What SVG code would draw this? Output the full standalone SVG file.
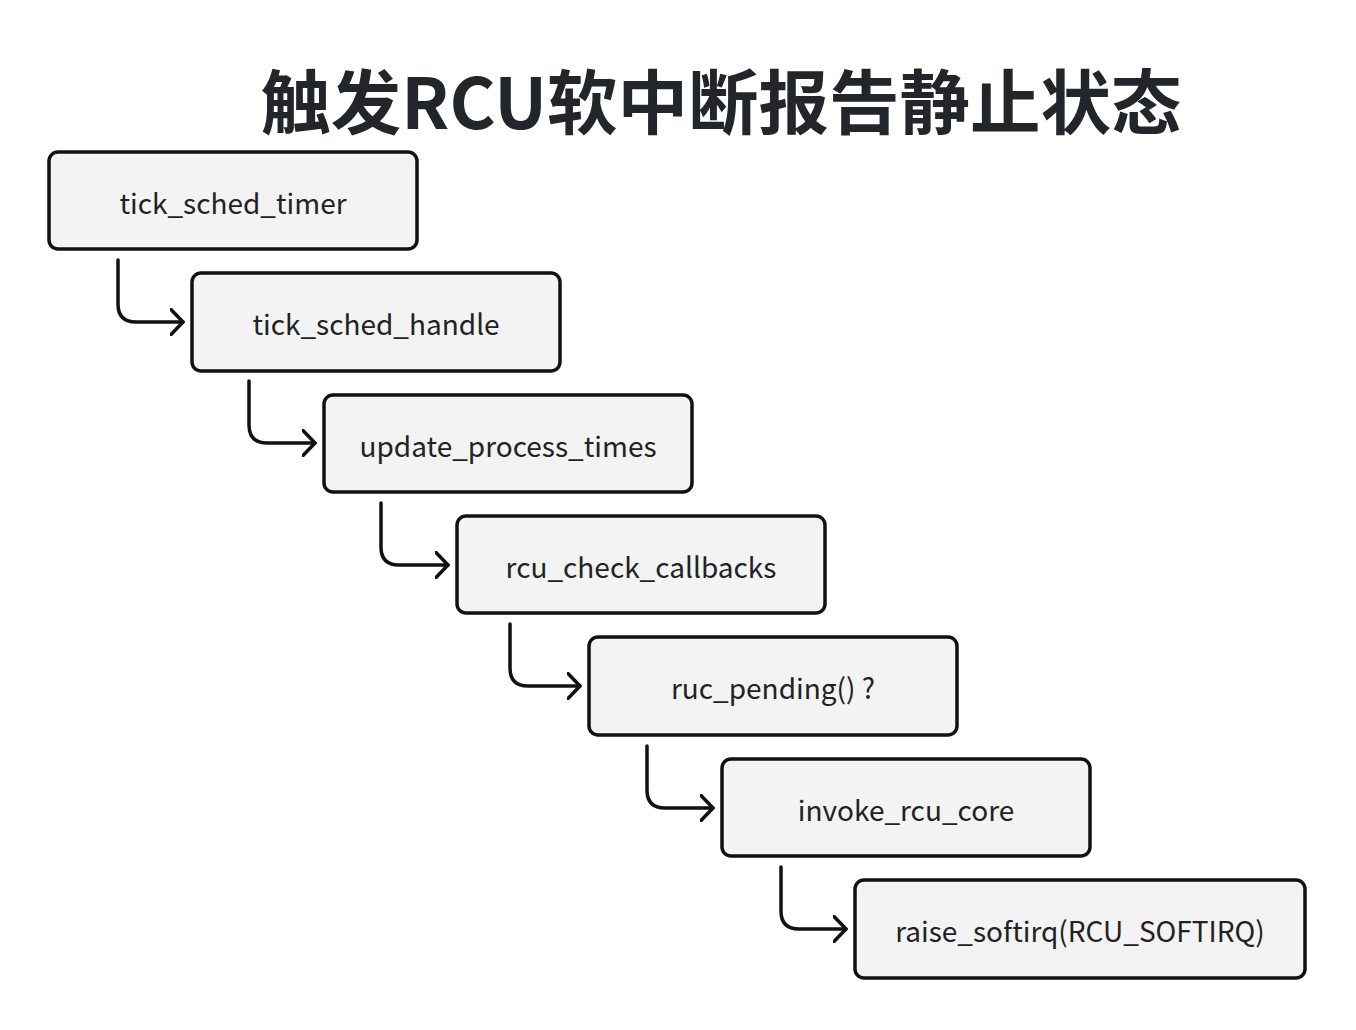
<svg xmlns="http://www.w3.org/2000/svg" width="1356" height="1030" viewBox="0 0 1356 1030">
<defs>
<style>
.box{fill:#f3f3f3;stroke:#111;stroke-width:3.5}
.lbl{font-family:"Noto Sans CJK SC","Noto Sans",sans-serif;font-size:28px;fill:#222;text-anchor:middle;dominant-baseline:central}
.title{font-family:"Noto Sans CJK SC","Noto Sans",sans-serif;font-size:70.5px;font-weight:700;fill:#22252a;text-anchor:middle}
.conn{fill:none;stroke:#111;stroke-width:3.5;stroke-linecap:round;stroke-linejoin:round}
</style>
<marker id="arr" viewBox="0 0 15 28" refX="13.5" refY="14" markerWidth="15" markerHeight="28" markerUnits="userSpaceOnUse" orient="auto">
<path d="M1.5,1.5 L13.5,14 L1.5,26.5" fill="none" stroke="#111" stroke-width="3.5" stroke-linecap="round" stroke-linejoin="round"/>
</marker>
</defs>
<rect width="1356" height="1030" fill="#ffffff"/>
<text class="title" x="721" y="129">触发RCU软中断报告静止状态</text>
<g id="connectors">
<path class="conn" marker-end="url(#arr)" d="M118,260 V304 Q118,322 136,322 H183"/>
<path class="conn" marker-end="url(#arr)" d="M249,381 V425 Q249,443 267,443 H315"/>
<path class="conn" marker-end="url(#arr)" d="M381,503 V547 Q381,565 399,565 H448"/>
<path class="conn" marker-end="url(#arr)" d="M510,624 V668 Q510,686 528,686 H580"/>
<path class="conn" marker-end="url(#arr)" d="M647,746 V790 Q647,808 665,808 H713"/>
<path class="conn" marker-end="url(#arr)" d="M781,867 V911 Q781,929 799,929 H846"/>
</g>
<g id="n1"><rect class="box" x="49" y="152" width="368" height="97" rx="9"/><text class="lbl" x="233" y="202">tick_sched_timer</text></g>
<g id="n2"><rect class="box" x="192" y="273" width="368" height="98" rx="9"/><text class="lbl" x="376" y="323">tick_sched_handle</text></g>
<g id="n3"><rect class="box" x="324" y="395" width="368" height="97" rx="9"/><text class="lbl" x="508" y="445">update_process_times</text></g>
<g id="n4"><rect class="box" x="457" y="516" width="368" height="97" rx="9"/><text class="lbl" x="641" y="566">rcu_check_callbacks</text></g>
<g id="n5"><rect class="box" x="589" y="637" width="368" height="98" rx="9"/><text class="lbl" x="773" y="687">ruc_pending() ?</text></g>
<g id="n6"><rect class="box" x="722" y="759" width="368" height="97" rx="9"/><text class="lbl" x="906" y="809">invoke_rcu_core</text></g>
<g id="n7"><rect class="box" x="855" y="880" width="450" height="98" rx="9"/><text class="lbl" x="1080" y="930">raise_softirq(RCU_SOFTIRQ)</text></g>
</svg>
